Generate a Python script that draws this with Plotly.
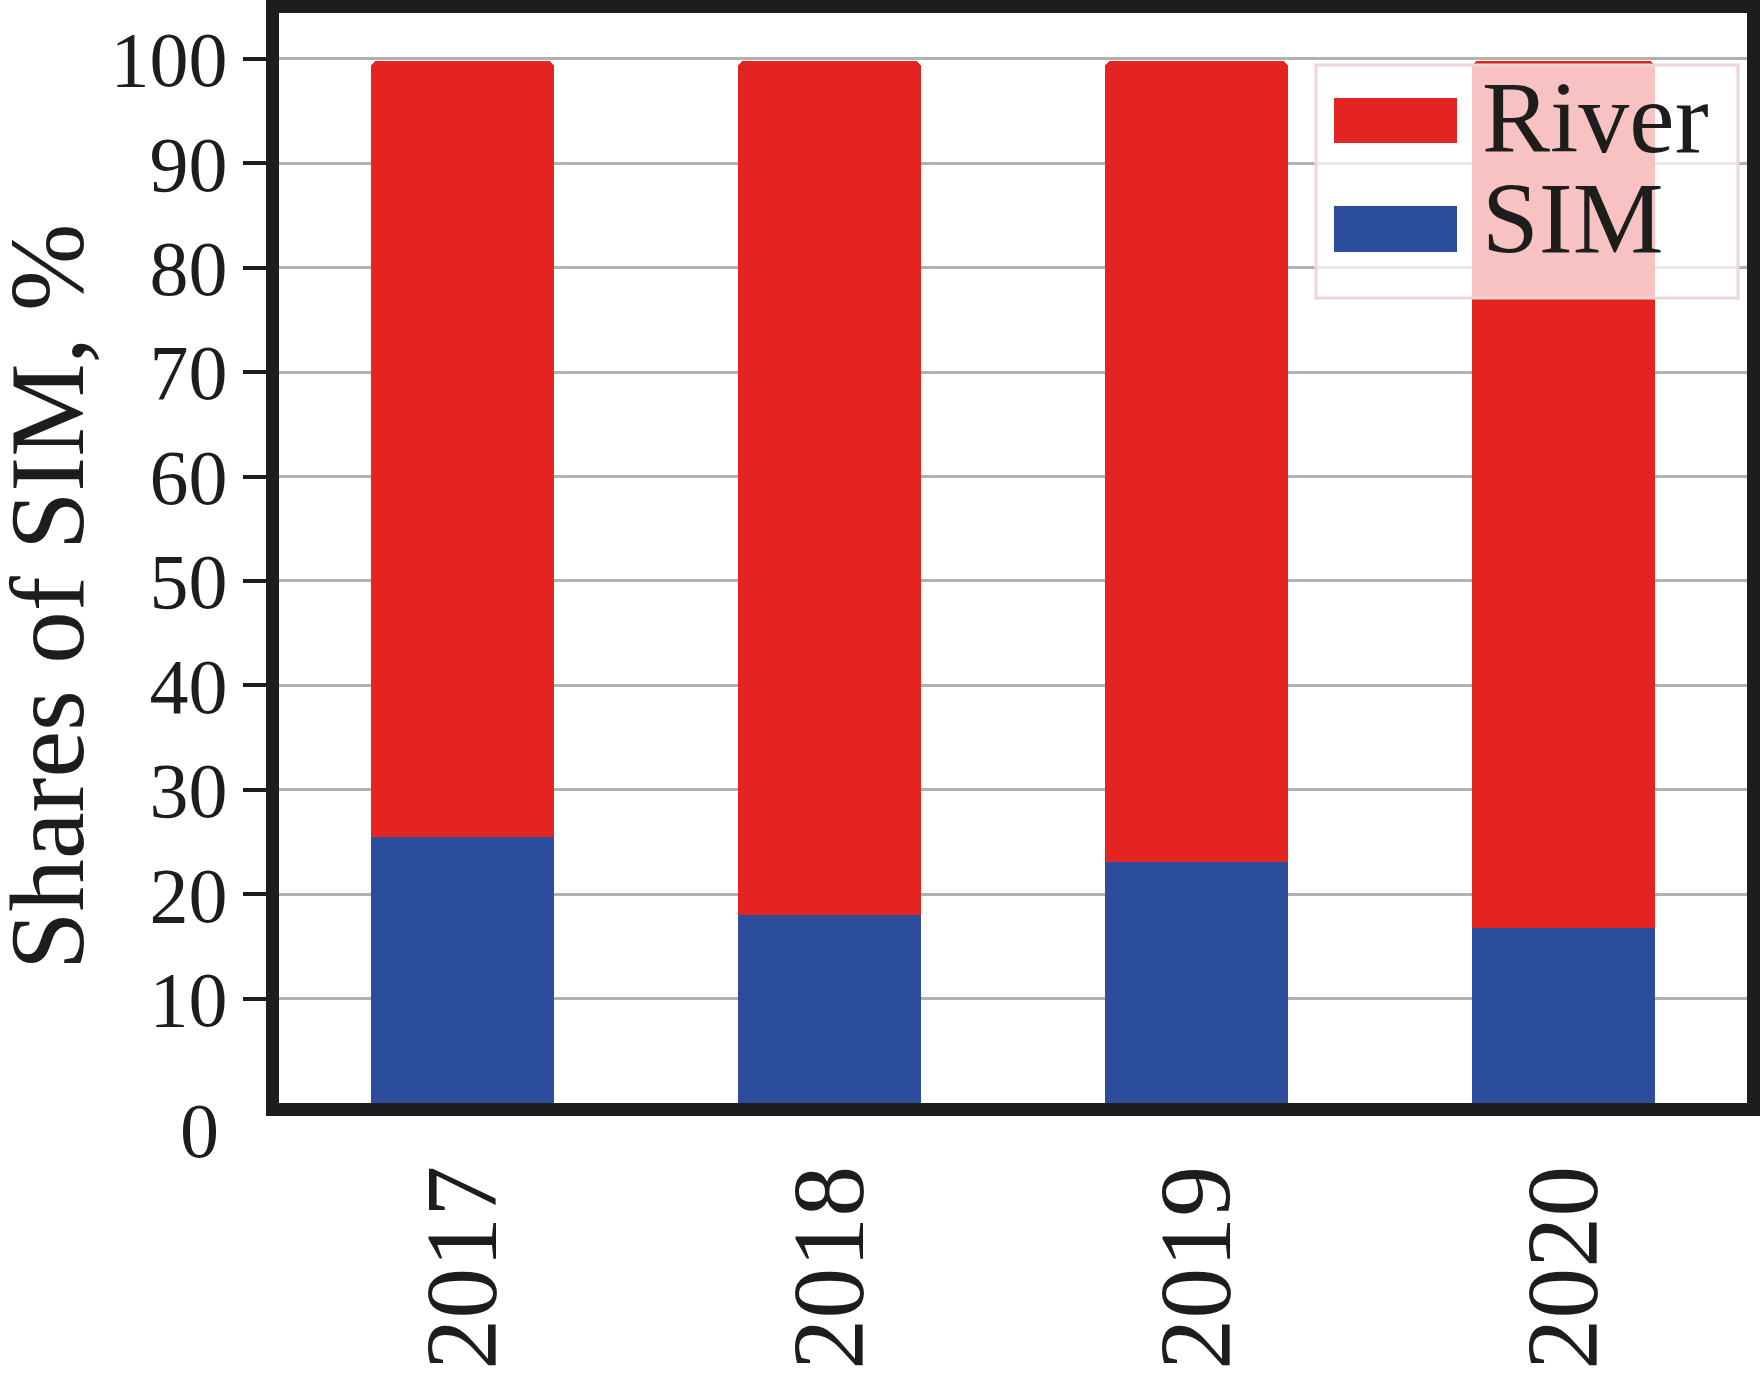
import plotly.graph_objects as go

# ---- data ----
years = ["2017", "2018", "2019", "2020"]
sim_share = [25.5, 18.0, 23.1, 16.8]
river_share = [74.3, 81.8, 76.7, 83.0]
ytick_vals = [10, 20, 30, 40, 50, 60, 70, 80, 90, 100]
ytick_text = ["10", "20", "30", "40", "50", "60", "70", "80", "90", "100"]

RED = "#e32421"
BLUE = "#2c4d9b"
INK = "#1d1d1b"
FONT = "Liberation Serif"

W, H = 1761, 1373
L, R, T, B = 279, 14, 13, 270
PW, PH = W - L - R, H - T - B


def px(x):
    return (x - L) / PW


def py(y):
    return (H - B - y) / PH


fig = go.Figure()
fig.add_trace(go.Bar(x=years, y=sim_share, name="SIM", marker_color=BLUE,
                     showlegend=False))
fig.add_trace(go.Bar(x=years, y=river_share, name="River", marker_color=RED,
                     showlegend=False))

fig.update_layout(
    width=W, height=H,
    margin=dict(l=L, r=R, t=T, b=B, pad=0, autoexpand=False),
    barmode="stack", bargap=0.5,
    plot_bgcolor="white", paper_bgcolor="white",
    font=dict(family=FONT, color=INK),
    showlegend=False,
)
fig.update_traces(marker_cornerradius=7, marker_line_width=0)

fig.update_xaxes(
    type="category", range=[-0.5, 3.5], automargin=False,
    showline=True, linewidth=13, linecolor=INK, mirror=True,
    showgrid=False, ticks="", tickangle=-90,
    tickfont=dict(family=FONT, size=102, color=INK),
    ticklabelstandoff=9,
)
fig.update_yaxes(
    range=[0, 104.4], automargin=False,
    showline=True, linewidth=13, linecolor=INK, mirror=True,
    showgrid=True, gridcolor="#b1b1b1", gridwidth=3, zeroline=False,
    tickvals=ytick_vals, ticktext=ytick_text,
    ticks="outside", ticklen=23, tickwidth=4, tickcolor=INK,
    tickfont=dict(family=FONT, size=78, color=INK),
)

# axis title
fig.add_annotation(
    text="Shares of SIM, %", textangle=-90, showarrow=False,
    xref="paper", yref="paper", x=px(47), y=py(597),
    xanchor="center", yanchor="middle",
    font=dict(family=FONT, size=105, color=INK),
)
# the lowered "0" label
fig.add_annotation(
    text="0", showarrow=False, xref="paper", yref="paper",
    x=px(221), y=py(1130), xanchor="right", yanchor="middle",
    font=dict(family=FONT, size=78, color=INK),
)

# legend (drawn as shapes + text)
fig.add_shape(type="rect", xref="paper", yref="paper", layer="above",
              x0=px(1316), x1=px(1738), y0=py(298), y1=py(65),
              fillcolor="rgba(255,255,255,0.72)",
              line=dict(color="#f0d3d3", width=3))
legend_items = [("River", RED, 98, 143, 118), ("SIM", BLUE, 206, 252, 219)]
for name, col, y0, y1, ty in legend_items:
    fig.add_shape(type="rect", xref="paper", yref="paper", layer="above",
                  x0=px(1334), x1=px(1457), y0=py(y1), y1=py(y0),
                  fillcolor=col, line=dict(width=0))
    fig.add_annotation(text=name, showarrow=False, xref="paper", yref="paper",
                       x=px(1480), y=py(ty), xanchor="left", yanchor="middle",
                       font=dict(family=FONT, size=102, color=INK))

fig.write_html("out.html", config={"displayModeBar": False},
               post_script="document.body.style.margin='0';")
